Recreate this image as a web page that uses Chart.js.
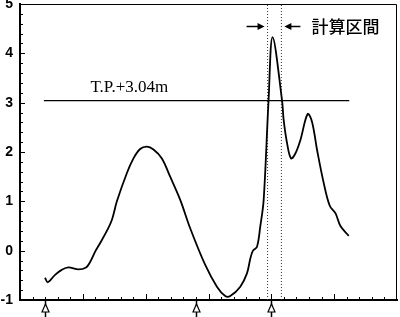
<!DOCTYPE html>
<html>
<head>
<meta charset="utf-8">
<script src="https://cdn.jsdelivr.net/npm/chart.js@4"></script>
<style>
  html, body { margin: 0; padding: 0; background: #fff; }
  #wrap { width: 400px; height: 317px; }
</style>
</head>
<body>
<div id="wrap"><canvas id="chart" width="400" height="317"></canvas></div>
<script>
// profile along the section (x in tick units, y in m)
var profX = [1.99, 2.21, 2.79, 3.32, 3.85, 4.65, 5.26, 5.58, 5.98, 6.37, 6.91, 7.31, 7.71, 8.50, 9.03, 9.56, 10.10, 10.62, 11.29, 11.95, 12.75, 13.55, 14.74, 15.67, 16.33, 16.73, 17.53, 18.06, 18.33, 18.54, 18.86, 19.12, 19.39, 19.78, 20.10, 20.85, 20.98, 21.25, 21.57, 21.91, 22.31, 22.89, 23.24, 23.64, 24.17, 24.65, 25.10, 25.50, 26.16];
var profY = [-0.55, -0.64, -0.49, -0.39, -0.34, -0.38, -0.34, -0.23, -0.02, 0.15, 0.40, 0.62, 1.00, 1.57, 1.87, 2.06, 2.11, 2.05, 1.87, 1.50, 1.03, 0.45, -0.29, -0.73, -0.92, -0.92, -0.73, -0.46, -0.16, 0.0, 0.08, 0.49, 1.03, 3.05, 4.33, 3.05, 2.65, 2.18, 1.87, 1.97, 2.24, 2.77, 2.61, 2.04, 1.37, 0.91, 0.76, 0.50, 0.30];

var tpLevel = 3.04;
var tpRange = [1.9, 26.2];
var tpLabel = 'T.P.+3.04m';

var sectionX = [19.7, 20.8];   // 計算区間
var sectionLabel = '計算区間';

var markerX = [2, 14, 20];      // arrows under the axis

var xMin = 0, xMax = 30;
var yMin = -1, yMax = 5;

var extras = {
  id: 'extras',
  afterDraw: function (chart) {
    var ctx = chart.ctx;
    var xs = chart.scales.x, ys = chart.scales.y;
    var a = chart.chartArea;
    ctx.save();
    ctx.strokeStyle = '#000';
    ctx.fillStyle = '#000';

    // top and right frame
    ctx.lineWidth = 1;
    ctx.beginPath();
    ctx.moveTo(a.left, a.top + 0.5);
    ctx.lineTo(a.right - 0.5, a.top + 0.5);
    ctx.lineTo(a.right - 0.5, a.bottom);
    ctx.stroke();

    // inward ticks on y
    for (var v = yMin; v <= yMax + 1e-6; v += 0.2) {
      var py = Math.round(ys.getPixelForValue(v)) + 0.5;
      var major = Math.abs(v - Math.round(v)) < 1e-6;
      ctx.beginPath();
      ctx.moveTo(a.left, py);
      ctx.lineTo(a.left + (major ? 5 : 3), py);
      ctx.stroke();
    }
    // inward ticks on x
    for (var t = xMin + 1; t < xMax; t++) {
      var px = Math.round(xs.getPixelForValue(t)) + 0.5;
      ctx.beginPath();
      ctx.moveTo(px, a.bottom);
      ctx.lineTo(px, a.bottom - (t % 5 === 0 ? 6 : 3));
      ctx.stroke();
    }

    // hollow arrows below the axis
    markerX.forEach(function (m) {
      var px = Math.round(xs.getPixelForValue(m)) + 0.5;
      ctx.lineWidth = 1.5;
      ctx.beginPath();
      ctx.moveTo(px, a.bottom);
      ctx.lineTo(px, chart.height);
      ctx.stroke();
      var top = a.bottom + 4;
      ctx.lineWidth = 1.2;
      ctx.fillStyle = '#fff';
      ctx.beginPath();
      ctx.moveTo(px, top);
      ctx.lineTo(px + 3.5, top + 8);
      ctx.lineTo(px - 3.5, top + 8);
      ctx.closePath();
      ctx.fill();
      ctx.stroke();
    });
    ctx.fillStyle = '#000';

    // T.P. label
    ctx.font = '17px "Liberation Serif"';
    ctx.textAlign = 'center';
    ctx.textBaseline = 'middle';
    ctx.fillText(tpLabel, xs.getPixelForValue(8.7), ys.getPixelForValue(3.3));

    // section arrows and label
    var l = xs.getPixelForValue(sectionX[0]);
    var r = xs.getPixelForValue(sectionX[1]);
    var ay = 26.5;
    ctx.lineWidth = 1.5;
    ctx.beginPath();
    ctx.moveTo(l - 21, ay);
    ctx.lineTo(l - 8, ay);
    ctx.moveTo(r + 8, ay);
    ctx.lineTo(r + 19, ay);
    ctx.stroke();
    ctx.beginPath();
    ctx.moveTo(l - 3, ay);
    ctx.lineTo(l - 10, ay - 3.5);
    ctx.lineTo(l - 10, ay + 3.5);
    ctx.closePath();
    ctx.moveTo(r + 3, ay);
    ctx.lineTo(r + 10, ay - 3.5);
    ctx.lineTo(r + 10, ay + 3.5);
    ctx.closePath();
    ctx.fill();
    ctx.font = '500 17px "Noto Sans CJK JP"';
    ctx.textAlign = 'left';
    ctx.fillText(sectionLabel, r + 30, ay);
    ctx.restore();
  }
};

function pts(xs, ys) {
  return xs.map(function (x, i) { return { x: x, y: ys[i] }; });
}

var ctx = document.getElementById('chart').getContext('2d');
var chart = new Chart(ctx, {
  type: 'line',
  data: {
    datasets: [
      {
        data: pts(profX, profY),
        borderColor: '#000',
        borderWidth: 1.8,
        pointRadius: 0,
        tension: 0.35,
        fill: false
      },
      {
        data: pts(tpRange, [tpLevel, tpLevel]),
        borderColor: '#000',
        borderWidth: 1.3,
        pointRadius: 0
      },
      {
        data: pts([sectionX[0], sectionX[0]], [yMin, yMax]),
        borderColor: '#333',
        borderWidth: 1,
        borderDash: [1, 2],
        pointRadius: 0
      },
      {
        data: pts([sectionX[1], sectionX[1]], [yMin, yMax]),
        borderColor: '#333',
        borderWidth: 1,
        borderDash: [1, 2],
        pointRadius: 0
      }
    ]
  },
  options: {
    responsive: false,
    animation: false,
    devicePixelRatio: 1,
    layout: { padding: { top: 4, right: 3, left: 0, bottom: 0 } },
    plugins: { legend: { display: false }, tooltip: { enabled: false } },
    scales: {
      x: {
        type: 'linear',
        min: xMin,
        max: xMax,
        grid: { display: false, drawTicks: false },
        border: { display: true, color: '#000', width: 2 },
        ticks: { display: false },
        afterFit: function (s) { s.height = 17; s.paddingLeft = 0; s.paddingRight = 0; }
      },
      y: {
        min: yMin,
        max: yMax,
        grid: { display: false, drawTicks: false },
        border: { display: true, color: '#000', width: 2 },
        ticks: {
          stepSize: 1,
          padding: 7,
          color: '#000',
          font: { family: '"Liberation Sans"', size: 14, weight: 'bold' },
          callback: function (v) { return v; }
        },
        afterFit: function (s) { s.width = 20; s.paddingTop = 0; s.paddingBottom = 0; }
      }
    }
  },
  plugins: [extras]
});
</script>
</body>
</html>
